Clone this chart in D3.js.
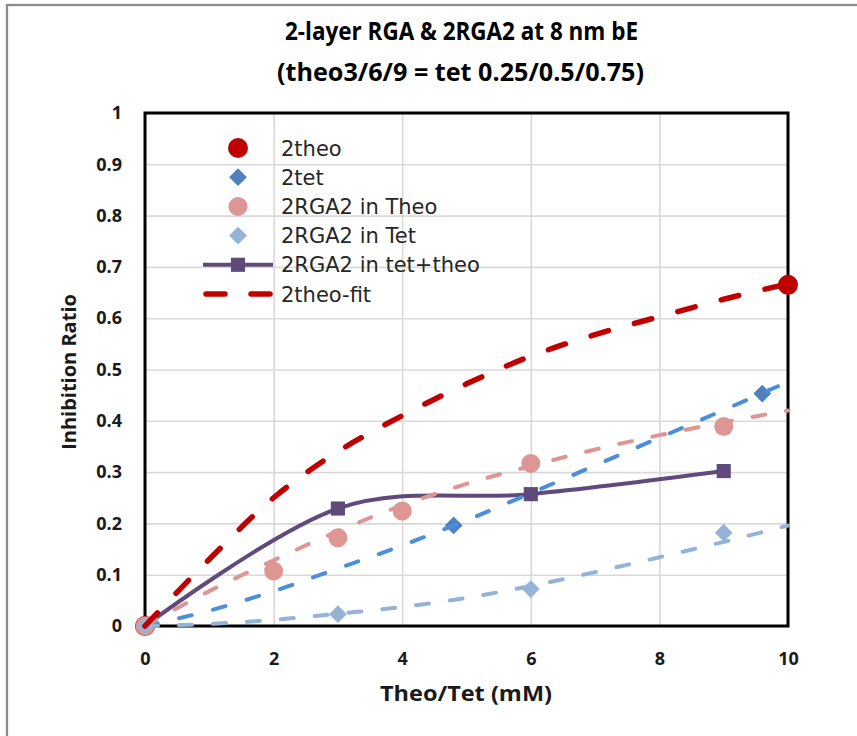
<!DOCTYPE html>
<html>
<head>
<meta charset="utf-8">
<script src="https://cdn.jsdelivr.net/npm/d3@7"></script>
<style>
  body { margin: 0; background: #fff; }
</style>
</head>
<body>
<svg id="chart" width="857" height="736"></svg>
<script>
// data
const theoX = [0, 10];
const theoY = [0, 0.665];

const tetX = [0, 4.8, 9.6];
const tetY = [0, 0.196, 0.453];

const rgaTheoX = [0, 2, 3, 4, 6, 9];
const rgaTheoY = [0, 0.107, 0.172, 0.224, 0.317, 0.389];

const rgaTetX = [0, 3, 6, 9];
const rgaTetY = [0, 0.023, 0.072, 0.182];

const mixX = [0, 3, 6, 9];
const mixY = [0, 0.229, 0.257, 0.302];

// fitted curves (dashed), read at each mM
const fitX = [0, 1, 2, 3, 4, 5, 6, 7, 8, 9, 10];
const theoFit = [0, 0.13, 0.25, 0.34, 0.41, 0.472, 0.526, 0.568, 0.603, 0.637, 0.667];
const tetFit = [0, 0.03, 0.068, 0.112, 0.157, 0.206, 0.259, 0.313, 0.367, 0.421, 0.476];
const rgaTheoFit = [0, 0.068, 0.128, 0.185, 0.235, 0.277, 0.312, 0.344, 0.372, 0.397, 0.42];
const rgaTetFit = [0, 0.004, 0.012, 0.024, 0.037, 0.055, 0.078, 0.105, 0.134, 0.164, 0.196];

const xTicks = [0, 2, 4, 6, 8, 10];
const yTicks = [0, 0.1, 0.2, 0.3, 0.4, 0.5, 0.6, 0.7, 0.8, 0.9, 1];

const legendNames = ["2theo", "2tet", "2RGA2 in Theo", "2RGA2 in Tet", "2RGA2 in tet+theo", "2theo-fit"];

const red = "#c00000", blue = "#4f81bd", blueFit = "#4a8fdc", pink = "#de9694", lightBlue = "#95b3d7", purple = "#604a7b";

const svg = d3.select("#chart");

// outer chart border
svg.append("rect")
  .attr("x", 7).attr("y", 5).attr("width", 900).attr("height", 800)
  .attr("fill", "none").attr("stroke", "#8c8c8c").attr("stroke-width", 2.3);

const x = d3.scaleLinear().domain([0, 10]).range([145, 788]);
const y = d3.scaleLinear().domain([0, 1]).range([626, 113]);

// gridlines
svg.append("g")
  .attr("transform", "translate(145,0)")
  .call(d3.axisLeft(y).tickValues(yTicks).tickSize(-(788 - 145)).tickFormat(""))
  .call(g => g.select(".domain").remove())
  .call(g => g.selectAll("line").attr("stroke", "#d9d9d9").attr("stroke-width", 1.6));

svg.append("g")
  .attr("transform", "translate(0,626)")
  .call(d3.axisBottom(x).tickValues(xTicks).tickSize(-(626 - 113)).tickFormat(""))
  .call(g => g.select(".domain").remove())
  .call(g => g.selectAll("line").attr("stroke", "#d9d9d9").attr("stroke-width", 1.6));

// tick labels
const yAxis = svg.append("g")
  .attr("transform", "translate(145,0)")
  .call(d3.axisLeft(y).tickValues(yTicks).tickSize(0).tickPadding(23).tickFormat(d => d3.format("")(+d.toFixed(1))));
yAxis.select(".domain").remove();
yAxis.selectAll("text")
  .attr("font-family", "'Open Sans', sans-serif").attr("font-weight", "bold")
  .attr("font-size", 18).attr("fill", "#1a1a1a");

const xAxis = svg.append("g")
  .attr("transform", "translate(0,626)")
  .call(d3.axisBottom(x).tickValues(xTicks).tickSize(0).tickPadding(26));
xAxis.select(".domain").remove();
xAxis.selectAll("text")
  .attr("font-family", "'Open Sans', sans-serif").attr("font-weight", "bold")
  .attr("font-size", 18).attr("fill", "#1a1a1a");

// plot frame
svg.append("rect")
  .attr("x", x(0)).attr("y", y(1))
  .attr("width", x(10) - x(0)).attr("height", y(0) - y(1))
  .attr("fill", "none").attr("stroke", "#000").attr("stroke-width", 3);

const zip = (xs, ys) => xs.map((v, i) => [v, ys[i]]);

const smooth = d3.line().x(d => x(d[0])).y(d => y(d[1])).curve(d3.curveCardinal.tension(0));
const fitLine = d3.line().x(d => x(d[0])).y(d => y(d[1])).curve(d3.curveMonotoneX);

const diamond = d3.symbol().type(d3.symbolDiamond2).size(200);
const square = d3.symbol().type(d3.symbolSquare).size(200);

// 2RGA2 in tet+theo
svg.append("path")
  .attr("d", smooth(zip(mixX, mixY)))
  .attr("fill", "none").attr("stroke", purple).attr("stroke-width", 4);
svg.selectAll("path.mix")
  .data(zip(mixX, mixY))
  .join("path")
  .attr("class", "mix")
  .attr("d", square)
  .attr("transform", d => `translate(${x(d[0])},${y(d[1])})`)
  .attr("fill", purple);

// 2theo
svg.selectAll("circle.theo")
  .data(zip(theoX, theoY))
  .join("circle")
  .attr("class", "theo")
  .attr("cx", d => x(d[0])).attr("cy", d => y(d[1]))
  .attr("r", 10).attr("fill", red);

// 2tet
svg.selectAll("path.tet")
  .data(zip(tetX, tetY))
  .join("path")
  .attr("class", "tet")
  .attr("d", diamond)
  .attr("transform", d => `translate(${x(d[0])},${y(d[1])})`)
  .attr("fill", blue);

// 2RGA2 in Theo
svg.selectAll("circle.rgaTheo")
  .data(zip(rgaTheoX, rgaTheoY))
  .join("circle")
  .attr("class", "rgaTheo")
  .attr("cx", d => x(d[0])).attr("cy", d => y(d[1]))
  .attr("r", 9.5).attr("fill", pink);

// 2RGA2 in Tet
svg.selectAll("path.rgaTet")
  .data(zip(rgaTetX, rgaTetY))
  .join("path")
  .attr("class", "rgaTet")
  .attr("d", diamond)
  .attr("transform", d => `translate(${x(d[0])},${y(d[1])})`)
  .attr("fill", lightBlue);

// dashed fits
const fits = [
  { ys: tetFit, color: blueFit, w: 4, dash: "13,22" },
  { ys: rgaTheoFit, color: pink, w: 4, dash: "13,21" },
  { ys: rgaTetFit, color: lightBlue, w: 4, dash: "13,21" },
  { ys: theoFit, color: red, w: 5.5, dash: "18,27" }
];
fits.forEach(f => {
  svg.append("path")
    .attr("d", fitLine(zip(fitX, f.ys)))
    .attr("fill", "none").attr("stroke", f.color)
    .attr("stroke-width", f.w).attr("stroke-dasharray", f.dash)
    .attr("stroke-linecap", "round");
});

// legend
const legend = svg.append("g");
const lx = 238, ly0 = 148, lstep = 29.2;
legendNames.forEach((name, i) => {
  const cy = ly0 + i * lstep;
  const g = legend.append("g");
  if (i === 0) g.append("circle").attr("cx", lx).attr("cy", cy).attr("r", 10).attr("fill", red);
  if (i === 1) g.append("path").attr("d", diamond).attr("transform", `translate(${lx},${cy})`).attr("fill", blue);
  if (i === 2) g.append("circle").attr("cx", lx).attr("cy", cy).attr("r", 9.5).attr("fill", pink);
  if (i === 3) g.append("path").attr("d", diamond).attr("transform", `translate(${lx},${cy})`).attr("fill", lightBlue);
  if (i === 4) {
    g.append("line").attr("x1", lx - 35).attr("x2", lx + 35).attr("y1", cy).attr("y2", cy)
      .attr("stroke", purple).attr("stroke-width", 4);
    g.append("path").attr("d", square).attr("transform", `translate(${lx},${cy})`).attr("fill", purple);
  }
  if (i === 5) {
    g.append("line").attr("x1", lx - 32).attr("x2", lx + 32).attr("y1", cy).attr("y2", cy)
      .attr("stroke", red).attr("stroke-width", 5.5)
      .attr("stroke-dasharray", "19,26").attr("stroke-linecap", "round");
  }
  g.append("text")
    .attr("x", 281).attr("y", cy).attr("dy", "0.36em")
    .attr("font-family", "'DejaVu Sans', sans-serif").attr("font-size", 21)
    .attr("fill", "#262626")
    .text(name);
});

// titles (condensed look of the original font)
svg.append("text")
  .attr("x", 285).attr("y", 40)
  .attr("font-family", "'Open Sans', sans-serif").attr("font-weight", "bold").attr("font-size", 25)
  .attr("textLength", 353).attr("lengthAdjust", "spacingAndGlyphs")
  .text("2-layer RGA & 2RGA2 at 8 nm bE");
svg.append("text")
  .attr("x", 277).attr("y", 81)
  .attr("font-family", "'Open Sans', sans-serif").attr("font-weight", "bold").attr("font-size", 25)
  .attr("textLength", 367).attr("lengthAdjust", "spacingAndGlyphs")
  .text("(theo3/6/9 = tet 0.25/0.5/0.75)");

svg.append("text")
  .attr("transform", "translate(76,372) rotate(-90)")
  .attr("text-anchor", "middle")
  .attr("font-family", "'Open Sans', sans-serif").attr("font-weight", "bold").attr("font-size", 20)
  .attr("fill", "#1a1a1a")
  .text("Inhibition Ratio");

svg.append("text")
  .attr("x", 380).attr("y", 701)
  .attr("font-family", "'Open Sans', sans-serif").attr("font-weight", "bold").attr("font-size", 22)
  .attr("textLength", 172).attr("lengthAdjust", "spacingAndGlyphs")
  .attr("fill", "#1a1a1a")
  .text("Theo/Tet (mM)");
</script>
</body>
</html>
